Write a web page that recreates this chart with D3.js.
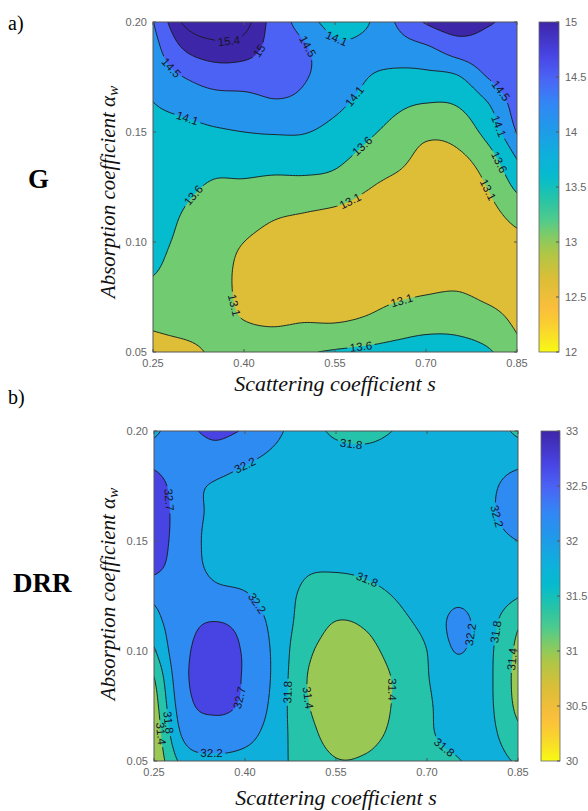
<!DOCTYPE html>
<html><head><meta charset="utf-8">
<script src="https://cdn.jsdelivr.net/npm/d3@7"></script>
<style>body{margin:0;background:#fff} svg{display:block}</style>
</head><body>
<script>
// ---------- DATA ----------
const sVals = [0.25,0.30,0.35,0.40,0.45,0.50,0.55,0.60,0.65,0.70,0.75,0.80,0.85];
const aVals = [0.20,0.1875,0.175,0.1625,0.15,0.1375,0.125,0.1125,0.10,0.0875,0.075,0.0625,0.05]; // rows top->bottom
const xTicks = [0.25,0.40,0.55,0.70,0.85];
const yTicks = [0.05,0.10,0.15,0.20];

// G (panel a) values, rows follow aVals, columns follow sVals
const gGrid = [
 [14.48,15.45,15.65,15.55,14.8,14.3,13.95,14.05,14.52,15.05,15.3,15.05,14.9],
 [14.3,15.0,15.25,15.2,14.8,14.55,14.2,14.2,14.3,14.4,14.7,14.8,14.85],
 [14.2,14.5,14.7,14.7,14.65,14.52,14.35,14.12,14.0,14.0,14.05,14.5,14.8],
 [14.09,14.2,14.3,14.35,14.45,14.4,14.2,13.95,13.7,13.58,13.62,14.05,14.7],
 [14.0,14.0,14.05,14.1,14.13,14.12,13.95,13.7,13.45,13.2,13.28,13.75,14.52],
 [13.95,13.85,13.75,13.8,13.8,13.8,13.7,13.45,13.25,12.95,12.98,13.35,14.1],
 [13.88,13.7,13.55,13.52,13.45,13.45,13.4,13.15,12.95,12.8,12.82,13.1,13.7],
 [13.82,13.58,13.4,13.3,13.15,13.08,13.0,12.88,12.8,12.75,12.78,12.95,13.25],
 [13.75,13.5,13.3,13.1,12.95,12.88,12.83,12.75,12.75,12.78,12.82,12.9,13.0],
 [13.65,13.4,13.28,13.0,12.9,12.85,12.82,12.8,12.85,12.9,12.95,12.92,12.95],
 [13.4,13.3,13.25,13.02,12.95,12.95,12.9,12.95,13.05,13.12,13.15,13.05,12.98],
 [13.15,13.2,13.2,13.12,13.08,13.12,13.12,13.2,13.35,13.45,13.45,13.3,13.05],
 [12.95,13.0,13.15,13.3,13.4,13.55,13.65,13.72,13.8,13.88,13.85,13.68,13.22]
];
const gLevels = [13.1,13.6,14.1,14.5,15,15.4];
const gLowBand = 12.64;
const gClim = [12,15];
const gCbarTicks = [12,12.5,13,13.5,14,14.5,15];
const gLabels = [ // [s, a, level]
 [0.377,0.191,15.4],[0.430,0.1855,15],[0.280,0.179,14.5],[0.496,0.188,14.5],
 [0.558,0.195,14.1],[0.306,0.156,14.1],[0.586,0.166,14.1],[0.819,0.168,14.5],
 [0.814,0.152,14.1],[0.594,0.143,13.6],[0.817,0.136,13.6],[0.316,0.122,13.6],
 [0.575,0.118,13.1],[0.794,0.122,13.1],[0.372,0.070,13.1],[0.657,0.074,13.1],
 [0.591,0.054,13.6]
];

// DRR (panel b)
const dGrid = [
 [32.1,32.55,32.8,32.65,32.3,31.95,31.75,31.7,31.82,31.95,32.0,32.05,31.7],
 [32.5,32.4,32.5,32.28,32.1,31.95,31.9,31.9,31.95,32.0,32.05,32.1,32.1],
 [32.95,32.4,32.15,32.0,31.95,31.9,31.95,31.98,32.0,32.05,32.05,32.15,32.3],
 [33.0,32.45,32.1,31.95,31.9,31.88,31.95,32.0,32.0,32.05,32.05,32.15,32.35],
 [32.95,32.45,32.05,31.95,31.9,31.85,31.92,31.95,31.98,32.05,32.05,32.1,32.2],
 [32.8,32.45,32.1,32.0,31.9,31.82,31.82,31.85,31.92,32.0,32.05,32.05,32.0],
 [32.3,32.5,32.35,32.25,31.95,31.75,31.65,31.7,31.82,31.95,32.12,32.0,31.82],
 [32.03,32.55,32.72,32.55,32.05,31.65,31.38,31.45,31.7,31.9,32.3,31.95,31.45],
 [31.75,32.6,32.85,32.65,32.1,31.5,31.25,31.3,31.55,31.8,32.22,31.9,31.3],
 [31.38,32.6,32.9,32.65,32.1,31.42,31.2,31.22,31.45,31.78,32.0,31.88,31.25],
 [31.2,32.5,32.8,32.6,32.05,31.45,31.2,31.22,31.45,31.75,31.95,31.88,31.3],
 [31.1,32.3,32.45,32.35,31.98,31.55,31.25,31.28,31.5,31.75,31.9,31.9,31.5],
 [31.05,31.95,32.1,32.05,31.9,31.65,31.42,31.45,31.62,31.7,31.78,31.95,31.75]
];
const dLevels = [31.4,31.8,32.2,32.7];
const dLowBand = 30.97;
const dClim = [30,33];
const dCbarTicks = [30,30.5,31,31.5,32,32.5,33];
const dLabels = [
 [0.403,0.1836,32.2],[0.271,0.1686,32.7],[0.573,0.195,31.8],[0.815,0.161,32.2],
 [0.601,0.131,31.8],[0.420,0.122,32.2],[0.758,0.108,32.2],[0.825,0.108,31.8],
 [0.840,0.096,31.4],[0.387,0.079,32.7],[0.471,0.081,31.8],[0.502,0.079,31.4],
 [0.634,0.082,31.4],[0.733,0.058,31.8],[0.276,0.067,31.8],[0.260,0.063,31.4],
 [0.346,0.055,32.2]
];

// parula-like colormap anchors (t=0 purple end, t=1 yellow end)
const cmapT = [0,0.1,0.17,0.25,0.33,0.4,0.47,0.53,0.6,0.65,0.7,0.78,0.87,0.93,1];
const cmapC = ["#3e26a8","#4844e4","#4b64f5","#3287f5","#1e9be8","#0fafdc","#05bccd","#23c3aa",
               "#50cb8c","#82cb64","#afc646","#dcbe37","#fbbe3c","#f9d52d","#f9f914"];

// ---------- RENDER ----------
const W=588,H=811;
const svg=d3.select("body").append("svg").attr("width",W).attr("height",H)
  .style("font-family","'Liberation Sans', Arial, sans-serif");
const parula=d3.scaleLinear().domain(cmapT).range(cmapC).interpolate(d3.interpolateRgb);

function catmull(p0,p1,p2,p3,t){return 0.5*((2*p1)+(-p0+p2)*t+(2*p0-5*p1+4*p2-p3)*t*t+(-p0+3*p1-3*p2+p3)*t*t*t);}
function makeInterp(grid){
  const ny=grid.length,nx=grid[0].length;
  const get=(j,i)=>{
    if(i<0) return 2*get(j,0)-get(j,1);
    if(i>nx-1) return 2*get(j,nx-1)-get(j,nx-2);
    if(j<0) return 2*get(0,i)-get(1,i);
    if(j>ny-1) return 2*get(ny-1,i)-get(ny-2,i);
    return grid[j][i];
  };
  return (u,v)=>{
    let i=Math.floor(u); if(i>nx-2)i=nx-2; if(i<0)i=0; const tu=u-i;
    let j=Math.floor(v); if(j>ny-2)j=ny-2; if(j<0)j=0; const tv=v-j;
    const r=[];
    for(let m=-1;m<=2;m++) r.push(catmull(get(j+m,i-1),get(j+m,i),get(j+m,i+1),get(j+m,i+2),tu));
    return catmull(r[0],r[1],r[2],r[3],tv);
  };
}

let uid=0;
function panel(cfg){
  const id="p"+(uid++);
  const {x0,y0,w,h,grid,levels,lowBand,clim,labels,cbX,cbW,cbTicks,xTitleY,yTitleX,yTitleC}=cfg;
  const xS=d3.scaleLinear().domain([sVals[0],sVals[sVals.length-1]]).range([x0,x0+w]);
  const yS=d3.scaleLinear().domain([aVals[aVals.length-1],aVals[0]]).range([y0+h,y0]);
  const cmap=v=>parula(Math.max(0,Math.min(1,(clim[1]-v)/(clim[1]-clim[0]))));
  const f=makeInterp(grid);
  const N=10, nx=(sVals.length-1)*N+1, ny=(aVals.length-1)*N+1;
  const uOfS=d3.scaleLinear().domain([sVals[0],sVals[sVals.length-1]]).range([0,sVals.length-1]);
  const vOfA=d3.scaleLinear().domain([aVals[0],aVals[aVals.length-1]]).range([0,aVals.length-1]);
  const vals=new Array(nx*ny);
  for(let gy=0;gy<ny;gy++)for(let gx=0;gx<nx;gx++)vals[gy*nx+gx]=f(gx/N,gy/N);
  const gxToPx=x=>xS(uOfS.invert((x-0.5)/N));
  const gyToPx=y=>yS(vOfA.invert((y-0.5)/N));
  const proj=d3.geoTransform({point:function(x,y){this.stream.point(gxToPx(x),gyToPx(y));}});
  const path=d3.geoPath(proj);
  const conts=d3.contours().size([nx,ny]).thresholds(levels)(vals);

  const defs=svg.append("defs");
  defs.append("clipPath").attr("id",id+"c").append("rect").attr("x",x0).attr("y",y0).attr("width",w).attr("height",h);
  const g=svg.append("g").attr("clip-path",`url(#${id}c)`);
  g.append("rect").attr("x",x0).attr("y",y0).attr("width",w).attr("height",h).attr("fill",cmap(lowBand));
  g.selectAll("path.fill").data(conts).join("path").attr("class","fill")
    .attr("d",path).attr("fill",d=>cmap(d.value)).attr("stroke",d=>cmap(d.value)).attr("stroke-width",0.4);

  // labels
  const lg=svg.append("g");
  const placed=[];
  labels.forEach(([s,a,L])=>{
    const tx=xS(s),ty=yS(a);
    const c=conts.find(d=>d.value===L);
    let best=null,bd=1e9;
    c.coordinates.forEach(poly=>poly.forEach(ring=>ring.forEach(p=>{
      const px=gxToPx(p[0]),py=gyToPx(p[1]);
      if(px<x0+3||px>x0+w-3||py<y0+3||py>y0+h-3)return;
      const dd=(px-tx)**2+(py-ty)**2; if(dd<bd){bd=dd;best=[px,py];}
    })));
    if(!best)return;
    const u=uOfS(xS.invert(best[0])),v=vOfA(yS.invert(best[1])),e=0.02;
    const dfx=(f(u+e,v)-f(u-e,v))/(2*e)/(w/(sVals.length-1));
    const dfy=(f(u,v+e)-f(u,v-e))/(2*e)/(h/(aVals.length-1));
    let ang=Math.atan2(dfx,-dfy)*180/Math.PI;
    if(ang>90)ang-=180; if(ang<=-90)ang+=180;
    const t=lg.append("text").attr("transform",`translate(${best[0]},${best[1]}) rotate(${ang})`)
      .attr("text-anchor","middle").attr("dy","0.35em").attr("font-size",11.5).attr("fill","#15152a").text(String(L));
    placed.push({x:best[0],y:best[1],ang,len:t.node().getComputedTextLength()});
  });
  const mask=defs.append("mask").attr("id",id+"m").attr("maskUnits","userSpaceOnUse")
     .attr("x",0).attr("y",0).attr("width",W).attr("height",H);
  mask.append("rect").attr("x",0).attr("y",0).attr("width",W).attr("height",H).attr("fill","#fff");
  placed.forEach(p=>mask.append("rect").attr("x",-p.len/2-2.5).attr("y",-5.5).attr("width",p.len+5).attr("height",11)
     .attr("transform",`translate(${p.x},${p.y}) rotate(${p.ang})`).attr("fill","#000"));
  const lines=svg.append("g").attr("clip-path",`url(#${id}c)`).append("g").attr("mask",`url(#${id}m)`);
  lines.selectAll("path").data(conts).join("path").attr("d",path).attr("fill","none")
    .attr("stroke","#1a1a1a").attr("stroke-width",0.9);
  lg.raise();

  // frame & ticks
  const ax=svg.append("g").attr("stroke","#555").attr("fill","none");
  ax.append("rect").attr("x",x0).attr("y",y0).attr("width",w).attr("height",h).attr("stroke-width",1);
  xTicks.forEach(t=>{ax.append("line").attr("x1",xS(t)).attr("x2",xS(t)).attr("y1",y0+h).attr("y2",y0+h-3);
                     ax.append("line").attr("x1",xS(t)).attr("x2",xS(t)).attr("y1",y0).attr("y2",y0+3);});
  yTicks.forEach(t=>{ax.append("line").attr("x1",x0).attr("x2",x0+3).attr("y1",yS(t)).attr("y2",yS(t));
                     ax.append("line").attr("x1",x0+w).attr("x2",x0+w-3).attr("y1",yS(t)).attr("y2",yS(t));});
  const tl=svg.append("g").attr("fill","#666").attr("font-size",11);
  xTicks.forEach(t=>tl.append("text").attr("x",xS(t)).attr("y",y0+h+15).attr("text-anchor","middle").text(d3.format(".2f")(t)));
  yTicks.forEach(t=>tl.append("text").attr("x",x0-6).attr("y",yS(t)+4).attr("text-anchor","end").text(d3.format(".2f")(t)));

  // colorbar
  const gid=id+"g";
  const lgd=defs.append("linearGradient").attr("id",gid).attr("x1",0).attr("y1",1).attr("x2",0).attr("y2",0);
  d3.range(0,1.0001,0.02).forEach(t=>lgd.append("stop").attr("offset",t).attr("stop-color",cmap(clim[0]+t*(clim[1]-clim[0]))));
  const cS=d3.scaleLinear().domain(clim).range([y0+h,y0]);
  svg.append("rect").attr("x",cbX).attr("y",y0).attr("width",cbW).attr("height",h).attr("fill",`url(#${gid})`)
    .attr("stroke","#666").attr("stroke-width",0.8);
  cbTicks.forEach(t=>{
    svg.append("line").attr("x1",cbX+cbW).attr("x2",cbX+cbW-3).attr("y1",cS(t)).attr("y2",cS(t)).attr("stroke","#555");
    tl.append("text").attr("x",cbX+cbW+6).attr("y",cS(t)+4).text(String(t));
  });

  // titles
  svg.append("text").attr("x",x0+w/2).attr("y",xTitleY).attr("text-anchor","middle")
    .attr("font-family","'Liberation Serif','Times New Roman',serif").attr("font-style","italic").attr("font-size",22)
    .attr("fill","#111").text("Scattering coefficient s");
  const yt=svg.append("text").attr("transform",`translate(${yTitleX},${yTitleC}) rotate(-90)`).attr("text-anchor","middle")
    .attr("font-family","'Liberation Serif','Times New Roman',serif").attr("font-style","italic").attr("font-size",21).attr("fill","#111");
  yt.append("tspan").text("Absorption coefficient α");
  yt.append("tspan").attr("font-size",15).attr("dy",3).text("w");
}

panel({x0:153,y0:22,w:364,h:330,grid:gGrid,levels:gLevels,lowBand:gLowBand,clim:gClim,labels:gLabels,
  cbX:539,cbW:20,cbTicks:gCbarTicks,xTitleY:391,yTitleX:115,yTitleC:192});
panel({x0:154,y0:431,w:364,h:330,grid:dGrid,levels:dLevels,lowBand:dLowBand,clim:dClim,labels:dLabels,
  cbX:541,cbW:19,cbTicks:dCbarTicks,xTitleY:805,yTitleX:115,yTitleC:594});

const serif="'Liberation Serif','Times New Roman',serif";
svg.append("text").attr("x",8).attr("y",30).attr("font-family",serif).attr("font-size",20).text("a)");
svg.append("text").attr("x",8).attr("y",404).attr("font-family",serif).attr("font-size",20).text("b)");
svg.append("text").attr("x",28).attr("y",188).attr("font-family",serif).attr("font-weight","bold").attr("font-size",27).text("G");
svg.append("text").attr("x",13).attr("y",592).attr("font-family",serif).attr("font-weight","bold").attr("font-size",27).text("DRR");
</script>
</body></html>
